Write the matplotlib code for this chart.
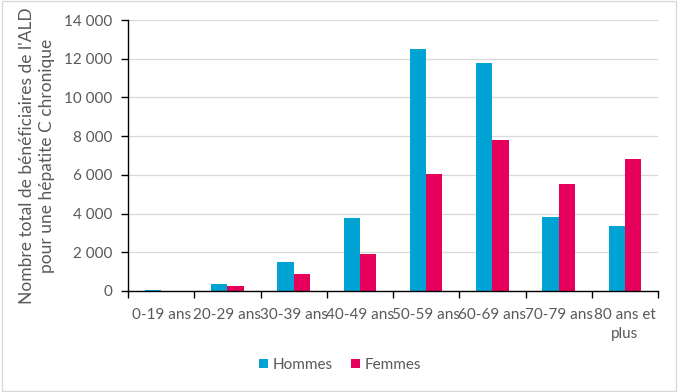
import matplotlib
matplotlib.use("Agg")
import matplotlib.pyplot as plt
import numpy as np
from matplotlib.ticker import FuncFormatter

categories = ["0-19 ans", "20-29 ans", "30-39 ans", "40-49 ans", "50-59 ans",
              "60-69 ans", "70-79 ans", "80 ans et\nplus"]
hommes = [60, 380, 1480, 3750, 12500, 11800, 3800, 3350]
femmes = [20, 280, 880, 1900, 6050, 7800, 5550, 6800]
series_names = ["Hommes", "Femmes"]
ylabel = "Nombre total de bénéficiaires de l'ALD\npour une hépatite C chronique"

plt.rcParams['font.family'] = ['Lato', 'DejaVu Sans']
gray = "#595959"

fig = plt.figure(figsize=(6.78, 3.92), dpi=100)
ax = fig.add_axes([128/678, 1-291/392, (658-128)/678, (291-20)/392])

x = np.arange(len(categories))
w = 0.245
ax.bar(x - w/2, hommes, w, color="#00A3D4", label=series_names[0])
ax.bar(x + w/2, femmes, w, color="#E6005C", label=series_names[1])

ax.set_xlim(-0.5, len(categories) - 0.5)
ax.set_ylim(0, 14000)
ax.set_yticks(np.arange(0, 14001, 2000))
ax.yaxis.set_major_formatter(FuncFormatter(lambda v, p: f"{int(v):,}".replace(",", " ")))
ax.grid(axis="y", color="#D9D9D9", linewidth=0.9)
ax.set_axisbelow(True)

ax.set_xticks(x)
ax.set_xticklabels(categories, fontsize=11, color=gray, linespacing=1.5)
ax.set_xticks(np.arange(-0.5, len(categories)), minor=True)
ax.tick_params(axis="x", which="major", length=0, pad=12)
ax.tick_params(axis="x", which="minor", length=5, width=1, color="black", direction="out")
ax.tick_params(axis="y", length=5, width=1, color="black", labelsize=11, labelcolor=gray, pad=6)

for s in ["top", "right"]:
    ax.spines[s].set_visible(False)
for s in ["left", "bottom"]:
    ax.spines[s].set_color("black")
    ax.spines[s].set_linewidth(1)

ax.set_ylabel(ylabel, fontsize=12.5, color=gray, linespacing=1.25, labelpad=7)

leg = fig.legend(loc="center", bbox_to_anchor=(340/678, 1-365/392), ncol=2, frameon=False,
                 fontsize=11, handlelength=0.6, handleheight=0.6, handletextpad=0.3,
                 columnspacing=1.2)
for t in leg.get_texts():
    t.set_color(gray)

border = plt.Rectangle((0.003, 0.003), 0.994, 0.994, transform=fig.transFigure,
                       fill=False, edgecolor="#D9D9D9", linewidth=1)
fig.patches.append(border)

fig.savefig("out.png", dpi=100)
